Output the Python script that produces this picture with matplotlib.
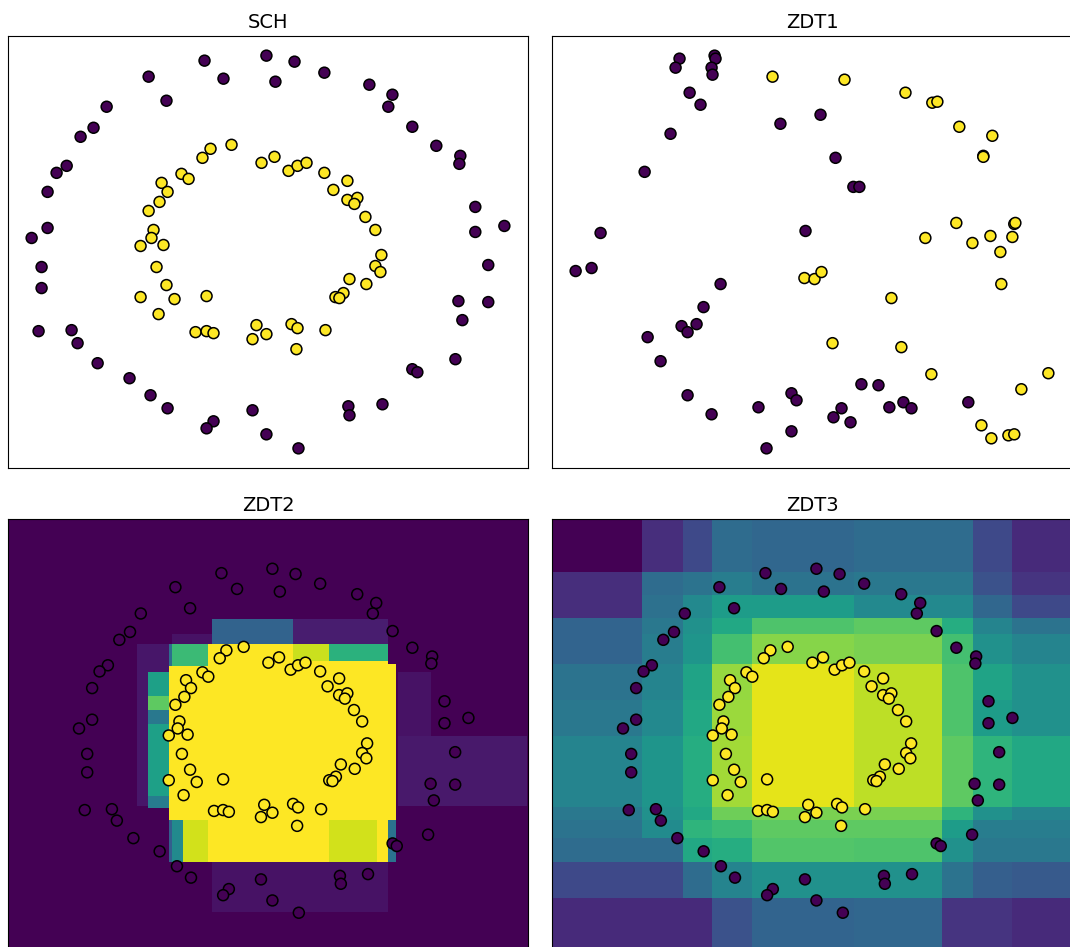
import numpy as np
import matplotlib
matplotlib.use("Agg")
import matplotlib.pyplot as plt

# circles data set, shown in SCH, ZDT2 and ZDT3
circ_x_out = [-0.405, -0.013, -0.759, -0.285, -0.646, -1.025, -1.108, -1.190, -1.278, -1.342,
              -1.399, -1.399, -1.500, -1.437, -1.437, -1.456, -1.247, -1.209, -1.082, -0.880,
              -0.747, -0.639, -0.348, -0.392, -0.101, -0.013, 0.165, 0.044, 0.354, 0.639,
              0.785, 0.759, 0.911, 1.063, 1.215, 1.209, 1.310, 1.494, 1.310, 1.392,
              1.203, 1.392, 1.228, 1.184, 0.911, 0.943, 0.722, 0.506, 0.513, 0.190]
circ_y_out = [1.91, 1.96, 1.75, 1.73, 1.51, 1.45, 1.24, 1.15, 0.86, 0.79,
              0.60, 0.24, 0.14, -0.15, -0.36, -0.79, -0.78, -0.91, -1.11, -1.26,
              -1.43, -1.56, -1.69, -1.76, -1.58, -1.82, 1.90, 1.70, 1.79, 1.67,
              1.57, 1.45, 1.25, 1.06, 0.96, 0.88, 0.45, 0.26, 0.20, -0.13,
              -0.49, -0.50, -0.68, -1.07, -1.17, -1.20, -1.52, -1.54, -1.63, -1.96]
circ_x_in = [-0.367, -0.418, -0.234, -0.044, -0.551, -0.506, -0.677, -0.639, -0.690, -0.759,
             -0.728, -0.741, -0.810, -0.665, -0.709, -0.646, -0.810, -0.595, -0.392, -0.696,
             -0.462, -0.392, -0.348, -0.076, -0.013, -0.101, 0.038, 0.127, 0.184, 0.241,
             0.354, 0.500, 0.411, 0.500, 0.563, 0.544, 0.614, 0.677, 0.715, 0.677,
             0.709, 0.513, 0.620, 0.475, 0.424, 0.449, 0.146, 0.184, 0.361, 0.177]
circ_y_in = [1.03, 0.94, 1.07, 0.89, 0.78, 0.73, 0.69, 0.60, 0.50, 0.41,
             0.22, 0.14, 0.06, 0.07, -0.15, -0.33, -0.45, -0.47, -0.44, -0.62,
             -0.80, -0.79, -0.81, -0.73, -0.82, -0.87, 0.95, 0.81, 0.86, 0.89,
             0.79, 0.71, 0.62, 0.52, 0.54, 0.48, 0.35, 0.22, -0.03, -0.14,
             -0.20, -0.27, -0.32, -0.41, -0.45, -0.46, -0.72, -0.76, -0.78, -0.97]

# ZDT1 points
z1_x0 = [-0.842, -0.867, -0.620, -0.614, -0.639, -0.633, -0.778, -0.709, -0.899, -1.063,
         -1.342, -1.399, -1.500, -0.203, -0.044, -0.582, -0.690, -0.829, -0.734, -0.791,
         -1.044, -0.962, -0.791, -0.639, -0.342, -0.133, -0.101, -0.133, -0.291, 0.051,
         0.146, 0.259, 0.297, 0.310, 0.418, 0.184, 0.133, 0.241, 0.487, 0.576,
         0.627, 0.987]
z1_y0 = [1.93, 1.84, 1.96, 1.93, 1.84, 1.77, 1.59, 1.47, 1.18, 0.80,
         0.19, -0.16, -0.19, 1.28, 0.21, -0.32, -0.55, -0.74, -0.72, -0.80,
         -0.85, -1.09, -1.43, -1.62, -1.55, -1.41, -1.48, -1.79, -1.96, 1.37,
         0.94, 0.65, 0.65, -1.32, -1.33, -1.56, -1.65, -1.70, -1.55, -1.50,
         -1.56, -1.50]
z1_x1 = [-0.253, -0.051, 0.013, 0.057, 0.203, 0.589, 0.759, 0.791, 0.930, 1.139,
         1.082, 1.082, 0.911, 0.715, 1.013, 1.127, 1.278, 1.285, 1.266, 1.190,
         1.196, 0.500, 0.127, 0.563, 0.753, 1.494, 1.323, 1.070, 1.133, 1.241,
         1.278]
z1_y1 = [1.75, -0.26, -0.27, -0.20, 1.72, 1.59, 1.49, 1.50, 1.25, 1.16,
         0.96, 0.95, 0.29, 0.14, 0.09, 0.16, 0.28, 0.29, 0.15, 0.00,
         -0.32, -0.46, -0.91, -0.95, -1.22, -1.21, -1.37, -1.73, -1.86, -1.83,
         -1.82]

# shared limits of the two lower panels
low_xlim = (-2.046, 1.952)
low_ylim = (-2.396, 2.527)

# ZDT2 background: boxes painted in order on top of value 0
z2_bx0 = [-1.053, 0.956, 0.956, 0.148, -0.784, -0.476, -0.476, -0.968, -0.968, -0.814,
          0.879, 0.879, -0.784, 0.425, 0.148, -0.814, -0.784, -0.814, -0.699, 0.425,
          -0.968, -0.968]
z2_bx1 = [-0.814, 1.952, 1.210, 0.879, -0.476, 0.879, 0.148, -0.814, -0.814, 0.879,
          0.941, 0.941, -0.506, 0.879, 0.425, -0.784, -0.699, -0.784, -0.514, 0.787,
          -0.814, -0.814]
z2_by0 = [-0.743, -0.743, 0.054, 1.103, 1.103, -1.951, 1.103, -0.629, -0.766, -1.381,
          -0.903, -1.381, 0.852, 0.909, 0.909, 0.852, -1.381, -1.381, -1.381, -1.381,
          0.350, 0.190]
z2_by1 = [1.103, 0.054, 0.784, 1.388, 1.217, -1.381, 1.388, 0.784, -0.629, 1.103,
          0.875, -0.903, 1.103, 1.103, 1.103, 1.103, -0.903, -0.903, -0.903, -0.903,
          0.515, 0.350]
z2_val = [0.06, 0.07, 0.05, 0.08, 0.05, 0.05, 0.32, 0.57, 0.42, 1.0,
          1.0, 0.38, 0.68, 0.64, 0.92, 0.36, 0.48, 0.30, 0.93, 0.93,
          0.75, 0.40]

# ZDT3 background: block grid, rows from top to bottom
z3_xedges = [-2.046, -1.353, -1.038, -0.814, -0.506, 0.279, 0.949, 1.187, 1.488, 1.952]
z3_yedges = [2.527, 1.923, 1.661, 1.399, 1.217, 0.875, 0.465, 0.054, -0.755, -0.903,
             -1.108, -1.381, -1.792, -2.396]
z3_vals = [
    [0.00, 0.13, 0.22, 0.35, 0.33, 0.35, 0.35, 0.22, 0.12],
    [0.13, 0.35, 0.38, 0.42, 0.38, 0.40, 0.40, 0.25, 0.15],
    [0.13, 0.37, 0.47, 0.55, 0.55, 0.47, 0.47, 0.33, 0.22],
    [0.32, 0.40, 0.50, 0.60, 0.72, 0.75, 0.62, 0.45, 0.38],
    [0.32, 0.42, 0.52, 0.70, 0.82, 0.80, 0.70, 0.50, 0.45],
    [0.38, 0.45, 0.58, 0.84, 0.96, 0.90, 0.72, 0.58, 0.50],
    [0.40, 0.47, 0.60, 0.85, 0.96, 0.90, 0.72, 0.55, 0.50],
    [0.45, 0.52, 0.62, 0.86, 0.96, 0.90, 0.75, 0.65, 0.60],
    [0.40, 0.50, 0.60, 0.78, 0.80, 0.80, 0.65, 0.50, 0.45],
    [0.38, 0.48, 0.65, 0.68, 0.75, 0.75, 0.55, 0.42, 0.42],
    [0.35, 0.35, 0.60, 0.62, 0.73, 0.72, 0.50, 0.40, 0.40],
    [0.22, 0.22, 0.35, 0.45, 0.50, 0.50, 0.38, 0.30, 0.28],
    [0.12, 0.12, 0.12, 0.25, 0.32, 0.33, 0.15, 0.15, 0.12],
]


def scatter_points(ax, x0, y0, x1, y1):
    x = np.concatenate([x0, x1])
    y = np.concatenate([y0, y1])
    labels = np.concatenate([np.zeros(len(x0)), np.ones(len(x1))])
    ax.scatter(x, y, c=labels, cmap="viridis", vmin=0, vmax=1,
               edgecolors="k", s=62, linewidths=1.1)


def clean(ax, title):
    ax.set_xticks([])
    ax.set_yticks([])
    ax.set_title(title, fontsize=14)


fig = plt.figure(figsize=(10.7, 9.47), dpi=100)
w, h = 520 / 1070, 432 / 947
ax_sch = fig.add_axes([8 / 1070, 479 / 947, w, h])
ax_z1 = fig.add_axes([552 / 1070, 479 / 947, w, h])
ax_z2 = fig.add_axes([8 / 1070, -4 / 947, w, h])
ax_z3 = fig.add_axes([552 / 1070, -4 / 947, w, h])

# SCH
scatter_points(ax_sch, circ_x_out, circ_y_out, circ_x_in, circ_y_in)
clean(ax_sch, "SCH")

# ZDT1
scatter_points(ax_z1, z1_x0, z1_y0, z1_x1, z1_y1)
clean(ax_z1, "ZDT1")

# ZDT2: boxes painted onto a grid
gx = np.linspace(low_xlim[0], low_xlim[1], 800)
gy = np.linspace(low_ylim[0], low_ylim[1], 700)
XX, YY = np.meshgrid(gx, gy)
Z2 = np.zeros_like(XX)
for bx0, bx1, by0, by1, v in zip(z2_bx0, z2_bx1, z2_by0, z2_by1, z2_val):
    Z2[(XX >= bx0) & (XX < bx1) & (YY >= by0) & (YY < by1)] = v
ax_z2.imshow(Z2, extent=(low_xlim[0], low_xlim[1], low_ylim[0], low_ylim[1]),
             origin="lower", aspect="auto", cmap="viridis", vmin=0, vmax=1,
             interpolation="nearest")
scatter_points(ax_z2, circ_x_out, circ_y_out, circ_x_in, circ_y_in)
ax_z2.set_xlim(low_xlim)
ax_z2.set_ylim(low_ylim)
clean(ax_z2, "ZDT2")

# ZDT3: block grid
ax_z3.pcolormesh(z3_xedges, z3_yedges, np.array(z3_vals), cmap="viridis",
                 vmin=0, vmax=1, shading="flat")
scatter_points(ax_z3, circ_x_out, circ_y_out, circ_x_in, circ_y_in)
ax_z3.set_xlim(low_xlim)
ax_z3.set_ylim(low_ylim)
clean(ax_z3, "ZDT3")

plt.savefig("out.png", dpi=100)
